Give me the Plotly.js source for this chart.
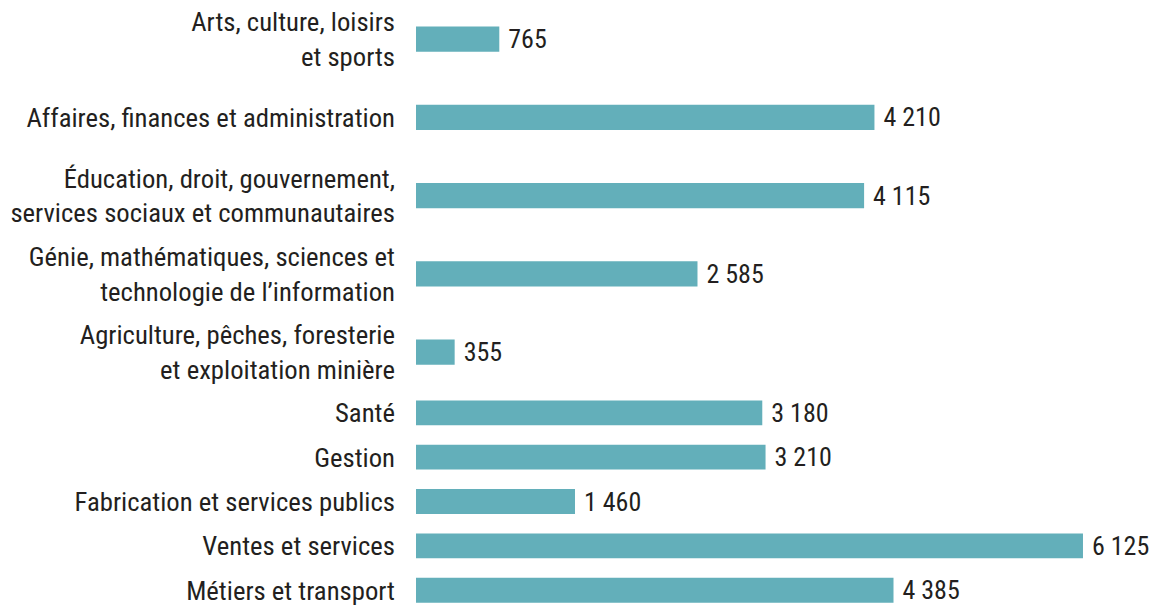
<!DOCTYPE html>
<html>
<head>
<meta charset="utf-8">
<script src="https://cdn.plot.ly/plotly-3.0.1.min.js"></script>
<style>
html,body{margin:0;padding:0;background:#fff;}
#chart{width:1162px;height:608px;}
</style>
</head>
<body>
<div id="chart"></div>
<script>
const categories = [
  "Arts, culture, loisirs<br>et sports",
  "Affaires, finances et administration",
  "Éducation, droit, gouvernement,<br>services sociaux et communautaires",
  "Génie, mathématiques, sciences et<br>technologie de l’information",
  "Agriculture, pêches, foresterie<br>et exploitation minière",
  "Santé",
  "Gestion",
  "Fabrication et services publics",
  "Ventes et services",
  "Métiers et transport"
];
const values = [765, 4210, 4115, 2585, 355, 3180, 3210, 1460, 6125, 4385];

const FONT = '"Roboto Condensed", "Liberation Sans Narrow", "Arial Narrow", Roboto, sans-serif';
const TXT = '#231F20';
const BAR = '#63AFBA';
const FS = 26.7;

// rows split into two bands (tall rows on top, compact rows at the bottom)
const split = 5;

function barTrace(cats, vals, yaxis, width) {
  return {
    type: 'bar',
    orientation: 'h',
    y: cats,
    x: vals,
    xaxis: 'x',
    yaxis: yaxis,
    width: width,
    marker: {color: BAR},
    texttemplate: '\u00a0%{x:,}',
    textposition: 'outside',
    constraintext: 'none',
    cliponaxis: false,
    textfont: {family: FONT, size: 26, color: TXT},
    hoverinfo: 'skip'
  };
}

const traces = [
  barTrace(categories.slice(0, split), values.slice(0, split), 'y', 0.32),
  barTrace(categories.slice(split), values.slice(split), 'y2', 0.56)
];

const yBase = {
  type: 'category',
  showgrid: false,
  zeroline: false,
  showline: false,
  ticks: '',
  ticklabelstandoff: 20,
  tickfont: {family: FONT, size: FS, color: TXT},
  anchor: 'x'
};

const layout = {
  width: 1162,
  height: 608,
  margin: {l: 416, r: 20, t: 0, b: 0, pad: 0},
  paper_bgcolor: '#ffffff',
  plot_bgcolor: '#ffffff',
  separators: ', ',
  showlegend: false,
  font: {family: FONT, size: FS, color: TXT},
  xaxis: {
    range: [0, 6667],
    visible: false,
    showgrid: false,
    zeroline: false,
    anchor: 'y2'
  },
  yaxis: Object.assign({}, yBase, {domain: [0.3565, 1], range: [4.5, -0.5]}),
  yaxis2: Object.assign({}, yBase, {domain: [0, 0.3565], range: [4.4, -0.486]})
};

Plotly.newPlot('chart', traces, layout, {displayModeBar: false, staticPlot: true});
</script>
</body>
</html>
